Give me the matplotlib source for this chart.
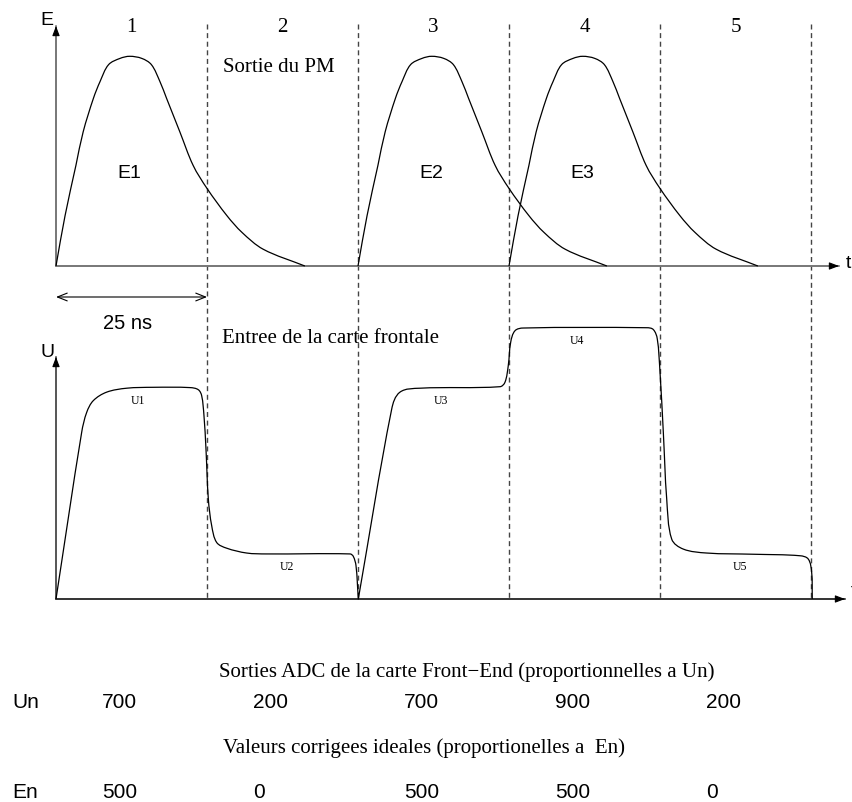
import numpy as np
import matplotlib
matplotlib.use("Agg")
import matplotlib.pyplot as plt
from matplotlib.path import Path
from matplotlib.patches import PathPatch

W, H = 853, 803

# time scale: one sampling period = 25 ns
period_ns = 25
boundaries = [25, 50, 75, 100, 125]
period_labels = ["1", "2", "3", "4", "5"]

# PM output pulses: start time (ns) and peak height
pulse_starts = [0, 50, 75]
pulse_peaks = [500, 500, 500]
pulse_names = ["E1", "E2", "E3"]
# shape of one PM pulse (ns after start, fraction of peak)
shape_t = [0, 1.5, 3.3, 4.5, 6.2, 7.3, 8.7, 10.6, 12.2, 14.2, 15.8, 17.2,
           18.3, 20.5, 22.7, 25.0, 28.3, 30.8, 34.3, 41.2]
shape_a = [0, 0.24, 0.48, 0.64, 0.80, 0.88, 0.96, 0.99, 1.0, 0.99, 0.96, 0.88,
           0.80, 0.64, 0.48, 0.37, 0.24, 0.16, 0.08, 0]
peak_t = 12.2

# front-end input trace (ns, level)
u_t = [0, 4.25, 5.08, 6.18, 8.39, 11.7, 16.1, 22.2, 23.56, 24.12, 24.5, 24.83,
       25.22, 25.78, 26.6, 28.26, 31.57, 34.88, 48.68, 49.22, 49.67, 50.05,
       55.58, 56.95, 60.26, 73.51, 74.34, 74.88, 75.28, 75.99, 77.37, 97.8,
       98.89, 99.55, 100.0, 100.55, 101.11, 101.94, 103.86, 107.73, 115.45,
       123.18, 124.55, 125.11, 125.21]
u_v = [0, 551, 617, 656, 684, 697, 700, 699, 692, 672, 606, 496,
       331, 242, 187, 168, 152, 149, 149, 141, 110, 0,
       628, 684, 697, 702, 717, 772, 849, 887, 896, 897,
       891, 860, 750, 551, 331, 198, 165, 152, 148,
       143, 132, 88, 0]
u_names = ["U1", "U2", "U3", "U4", "U5"]

# ADC outputs and ideal corrected values
un_values = [700, 200, 700, 900, 200]
en_values = [500, 0, 500, 500, 0]

# layout: reference pixel of t=0 and pixels per ns
X0 = 56
PX_NS = 151 / period_ns
xlim = (-X0 / PX_NS, (W - X0) / PX_NS)

SERIF = "Liberation Serif"
SANS = "Liberation Sans"

fig = plt.figure(figsize=(W / 100, H / 100), dpi=100)


def px_axes(y0, y1):
    a = fig.add_axes([0, 1 - y1 / H, 1, (y1 - y0) / H])
    a.set_xlim(xlim)
    a.axis("off")
    a.patch.set_alpha(0)
    return a


def smooth_curve(ax, xs, ys, yscale, corners=()):
    # bezier path through the read points (tangents from neighbours)
    P = np.column_stack([np.asarray(xs, float) * PX_NS,
                         np.asarray(ys, float) / yscale])
    n = len(P)

    def unit(v):
        return v / np.linalg.norm(v)

    verts = [P[0]]
    codes = [Path.MOVETO]
    for i in range(n - 1):
        a, b = P[i], P[i + 1]
        L = np.linalg.norm(b - a)
        seg = unit(b - a)
        ta = seg if (i == 0 or i in corners) else unit(P[i + 1] - P[i - 1])
        tb = seg if (i + 1 == n - 1 or (i + 1) in corners) else unit(P[i + 2] - P[i])
        verts += [a + ta * L / 3, b - tb * L / 3, b]
        codes += [Path.CURVE4] * 3
    V = np.array(verts)
    V[:, 0] /= PX_NS
    V[:, 1] *= yscale
    ax.add_patch(PathPatch(Path(V, codes), fill=False, edgecolor="black",
                           lw=0.9, joinstyle="round"))


ax_bg = fig.add_axes([0, 0, 1, 1])
ax_bg.set_xlim(xlim)
ax_bg.set_ylim(H, 0)
ax_bg.axis("off")

# panel for PM pulses: baseline at y=267 px, 500 units = 209.7 px
ax_e = px_axes(0, 300)
e_scale = 500 / 209.7
ax_e.set_ylim(-(300 - 267) * e_scale, 267 * e_scale)

# panel for front-end input: baseline at y=600 px, 700 units = 211.7 px
ax_u = px_axes(300, 620)
u_scale = 700 / 211.7
ax_u.set_ylim(-(620 - 600) * u_scale, (600 - 300) * u_scale)

# period separators
ax_bg.vlines(boundaries, 25, 600, colors="#444444", lw=1.0,
             linestyles=(0, (3.6, 2.6)))


def axis_arrow(xy0, xy1, color, back):
    ax_bg.annotate("", xy=xy1, xytext=xy0,
                   arrowprops=dict(arrowstyle="-", color=color, lw=1.4,
                                   shrinkA=0, shrinkB=0))
    tip_from = (xy1[0] - back[0], xy1[1] - back[1])
    ax_bg.annotate("", xy=xy1, xytext=tip_from,
                   arrowprops=dict(arrowstyle="-|>,head_length=0.58,head_width=0.22",
                                   color="black", lw=0.8, mutation_scale=10,
                                   shrinkA=0, shrinkB=0))


x_end_top = (839 - X0) / PX_NS
x_end_bot = (845 - X0) / PX_NS
axis_arrow((0, 267), (0, 27), "#777777", (0, -8))
axis_arrow((0, 267), (x_end_top, 267), "#777777", (1.4, 0))
axis_arrow((0, 600), (0, 358), "#555555", (0, -8))
axis_arrow((0, 600), (x_end_bot, 600), "#333333", (1.4, 0))

# pulses
for s, p in zip(pulse_starts, pulse_peaks):
    smooth_curve(ax_e, [s + t for t in shape_t], [p * a for a in shape_a],
                 e_scale)
u_corners = [i for i, v in enumerate(u_v) if v == 0]
smooth_curve(ax_u, u_t, u_v, u_scale, corners=u_corners)

# 25 ns arrow
ax_bg.annotate("", xy=(0, 298), xytext=(period_ns, 298),
               arrowprops=dict(arrowstyle="<->,head_length=0.5,head_width=0.2",
                               color="black", lw=0.8, mutation_scale=14,
                               shrinkA=0, shrinkB=0))
ax_bg.text(period_ns / 2 - 0.6, 329, "25 ns", family=SANS, fontsize=14.5,
           ha="center", va="baseline")

# period numbers
for b, lab in zip(boundaries, period_labels):
    ax_bg.text(b - period_ns / 2, 32, lab, family=SERIF, fontsize=15,
               ha="center", va="baseline")

# pulse names
for s, name in zip(pulse_starts, pulse_names):
    ax_bg.text(s + peak_t, 178, name, family=SANS, fontsize=14,
               ha="center", va="baseline")


def ptext(x, y, s, **kw):
    fig.text(x / W, 1 - y / H, s, **kw)


# axis letters
ptext(47, 25, "E", family=SANS, fontsize=14, ha="center", va="baseline")
ptext(48, 357, "U", family=SANS, fontsize=14, ha="center", va="baseline")
ptext(846, 268, "t", family=SANS, fontsize=14, ha="left", va="baseline")
ptext(851, 596, "t", family=SANS, fontsize=14, ha="left", va="baseline")

ptext(223, 72, "Sortie du PM", family=SERIF, fontsize=15, va="baseline")
ptext(222, 343, "Entree de la carte frontale", family=SERIF, fontsize=15,
      va="baseline")

# level labels
u_label_pos = [(138, 404), (287, 570), (441, 404), (577, 344), (740, 570)]
for (x, y), name in zip(u_label_pos, u_names):
    ptext(x, y, name, family=SERIF, fontsize=8.5, ha="center", va="baseline")

# table of values
ptext(219, 677, "Sorties ADC de la carte Front\u2212End (proportionnelles a Un)",
      family=SERIF, fontsize=15, va="baseline")
ptext(223, 753, "Valeurs corrigees ideales (proportionelles a  En)",
      family=SERIF, fontsize=15, va="baseline")
ptext(12, 708, "Un", family=SANS, fontsize=15, va="baseline")
ptext(12, 798, "En", family=SANS, fontsize=15, va="baseline")
col0 = (102 - X0) / PX_NS
for k, (un, en) in enumerate(zip(un_values, en_values)):
    ax_bg.text(col0 + k * period_ns, 708, str(un), family=SANS, fontsize=15,
               ha="left", va="baseline")
    ax_bg.text(col0 + k * period_ns, 798, str(en), family=SANS, fontsize=15,
               ha="left", va="baseline")

fig.savefig("out.png", dpi=100)
